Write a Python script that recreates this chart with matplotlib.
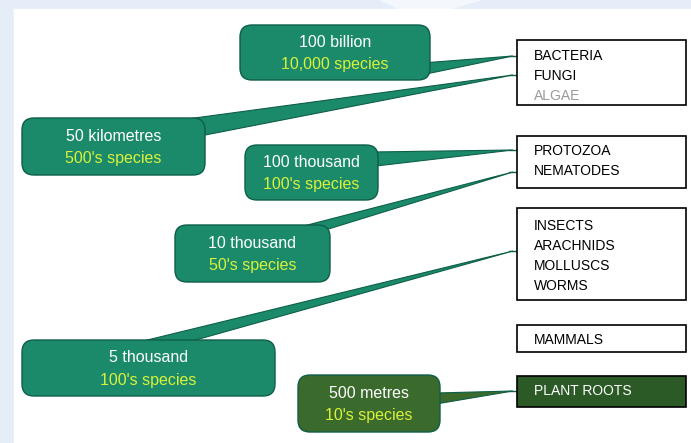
import matplotlib.pyplot as plt
from matplotlib.patches import FancyBboxPatch, Rectangle, Polygon

plt.rcParams['font.family'] = ['Liberation Sans', 'DejaVu Sans']

# data: what lives in a gram of soil
amounts = ["100 billion", "50 kilometres", "100 thousand", "10 thousand", "5 thousand", "500 metres"]
species = ["10,000 species", "500's species", "100's species", "50's species", "100's species", "10's species"]
groups = [["BACTERIA", "FUNGI", "ALGAE"],
          ["PROTOZOA", "NEMATODES"],
          ["INSECTS", "ARACHNIDS", "MOLLUSCS", "WORMS"],
          ["MAMMALS"],
          ["PLANT ROOTS"]]

# layout (pixels)
callout_boxes = [(240, 25, 190, 55), (22, 118, 183, 57), (245, 145, 133, 55),
                 (175, 225, 155, 57), (22, 340, 253, 56), (298, 375, 142, 57)]
tail_bases = [[(422, 63), (426, 74)], [(165, 122), (200, 136)], [(372, 152), (376, 166)],
              [(292, 229), (322, 231)], [(135, 343), (185, 343)], [(436, 393), (436, 404)]]
tail_tips = [(513, 56), (513, 75), (513, 150), (513, 172), (513, 251), (513, 391)]
callout_cols = ["#1b8a6b"] * 5 + ["#3b6a2d"]
group_boxes = [(517, 40, 169, 65), (517, 136, 169, 52), (517, 208, 169, 92),
               (517, 325, 169, 27), (517, 376, 169, 31)]
group_text_top = [56, 151, 226, 340, 391]
line_step = 20

fig = plt.figure(figsize=(6.91, 4.43), dpi=100)
ax = fig.add_axes([0, 0, 1, 1])
ax.set_xlim(0, 691)
ax.set_ylim(443, 0)
ax.axis('off')

# background
ax.add_patch(Rectangle((0, 0), 691, 443, color="#e4edf8", zorder=0))
ax.add_patch(Polygon([(380, 0), (480, 0), (450, 9), (400, 9)], color="#f4f8fd", zorder=0))
ax.add_patch(Rectangle((14, 9), 680, 440, color="white", zorder=0))

for i in range(len(amounts)):
    x, y, w, h = callout_boxes[i]
    col = callout_cols[i]
    ax.add_patch(Polygon(tail_bases[i] + [tail_tips[i]], closed=True, facecolor=col,
                         edgecolor="#0e5e48", lw=0.8, zorder=2))
    ax.plot([tail_tips[i][0] - 4, 519], [tail_tips[i][1], tail_tips[i][1]], color="#0e5e48", lw=1, zorder=2)
    ax.add_patch(FancyBboxPatch((x, y), w, h, boxstyle="round,pad=0,rounding_size=12",
                                facecolor=col, edgecolor="#0e5e48", lw=1, zorder=3))
    ax.text(x + w / 2, y + h / 2 - 10, amounts[i], color="white", fontsize=11.5,
            ha="center", va="center", zorder=4)
    ax.text(x + w / 2, y + h / 2 + 12, species[i], color="#d9f23a", fontsize=11.5,
            ha="center", va="center", zorder=4)

for j, names in enumerate(groups):
    x, y, w, h = group_boxes[j]
    dark = names == ["PLANT ROOTS"]
    ax.add_patch(Rectangle((x, y), w, h, facecolor="#2c5a27" if dark else "white",
                           edgecolor="black", lw=1.2, zorder=3))
    for k, name in enumerate(names):
        col = "white" if dark else ("#9a9a9a" if name == "ALGAE" else "black")
        ax.text(x + 17, group_text_top[j] + k * line_step, name, color=col, fontsize=10,
                ha="left", va="center", zorder=4)

fig.savefig("out.png", dpi=100)
